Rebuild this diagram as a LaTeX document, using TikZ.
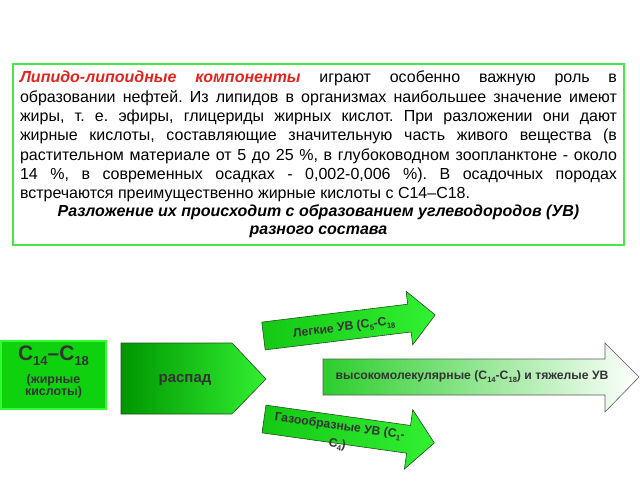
\documentclass[tikz,border=0pt]{standalone}
\usepackage{fontspec}
\setmainfont{Liberation Sans}
\usetikzlibrary{positioning}
\definecolor{boxgreen}{RGB}{70,232,70}
\definecolor{lipred}{RGB}{226,36,30}
\definecolor{darkgreen}{RGB}{0,150,0}
\definecolor{midgreen}{RGB}{20,200,20}
\definecolor{brightgreen}{RGB}{50,240,50}
\definecolor{acidgreen}{RGB}{15,210,15}
\definecolor{acidedge}{RGB}{50,255,50}
\definecolor{edgegreen}{RGB}{30,80,30}
\newcommand{\lowsub}[1]{\raisebox{-0.45ex}{\scalebox{0.62}{#1}}}
\tikzset{
  arrowfill/.style={draw=edgegreen, line width=0.6pt, left color=midgreen, right color=brightgreen},
  lbl/.style={font=\bfseries\fontsize{12.2}{13}\selectfont, text=black!80, inner sep=0pt},
}

\begin{document}
\begin{tikzpicture}[x=1pt,y=-1pt]
\useasboundingbox (0,0) rectangle (640,480);

% text box
\node[draw=boxgreen, line width=2pt, anchor=north west, text width=597pt, inner xsep=7pt,
      minimum height=181pt, align=justify] (info) at (12,63)
  {\fontsize{16}{19.3}\selectfont\frenchspacing\hyphenpenalty=10000\exhyphenpenalty=10000
   \textcolor{lipred}{\bfseries\itshape Липидо-липоидные компоненты} играют особенно важную роль в\linebreak
   образовании нефтей. Из липидов в организмах наибольшее значение имеют\linebreak
   жиры, т. е. эфиры, глицериды жирных кислот. При разложении они дают\linebreak
   жирные кислоты, составляющие значительную часть живого вещества (в\linebreak
   растительном материале от 5 до 25 \%, в глубоководном зоопланктоне - около\linebreak
   14 \%, в современных осадках - 0,002-0,006 \%). В осадочных породах\linebreak
   встречаются преимущественно жирные кислоты с C14–C18.\par
   \centering\bfseries\itshape\baselineskip=18pt Разложение их происходит с образованием углеводородов (УВ)\par
   разного состава\par};

% C14-C18 box
\filldraw[fill=acidgreen, draw=acidedge, line width=2.5pt] (1,341) rectangle (106,409);
\node[lbl, font=\bfseries\fontsize{21}{20}\selectfont] (acids) at (53.5,356)
  {C\lowsub{14}–C\lowsub{18}};
\node[lbl, font=\bfseries\fontsize{12.5}{12.5}\selectfont, align=center, below=8pt of acids] (fatty)
  {(жирные\\ кислоты)};

% decay
\path[draw=edgegreen, line width=0.6pt, left color=darkgreen, right color=brightgreen]
  (121,343) -- (232,343) -- (266,379) -- (232,414) -- (121,414) -- cycle;
\node[lbl, font=\bfseries\fontsize{15}{16}\selectfont] (decay) at (185,380) {распад};

% light hydrocarbons
\begin{scope}[shift={(263.5,336)}, rotate=7]
\path[arrowfill] (0,-14) -- (147,-14) -- (147,-27) -- (173,0) -- (147,27) -- (147,14) -- (0,14) -- cycle;
\node[lbl, rotate=7] (light) at (81,2) {Легкие УВ (C\lowsub{5}-C\lowsub{18}};
\end{scope}

% gaseous hydrocarbons
\begin{scope}[shift={(264,419)}, rotate=-8]
\path[arrowfill] (0,-14) -- (146,-14) -- (146,-30) -- (172,0) -- (146,30) -- (146,14) -- (0,14) -- cycle;
\node[lbl, rotate=-8, align=center] (gas) at (76,6) {Газообразные УВ (C\lowsub{1}-\\[5pt] C\lowsub{4})};
\end{scope}

% heavy hydrocarbons
\path[draw=black!65, line width=0.6pt, left color=midgreen!90!white, right color=white]
  (323,359) -- (605,359) -- (605,343) -- (639,377) -- (605,412) -- (605,395) -- (323,395) -- cycle;
\node[lbl] (heavy) at (472,377) {высокомолекулярные (C\lowsub{14}-C\lowsub{18}) и тяжелые УВ};
\end{tikzpicture}
\end{document}
